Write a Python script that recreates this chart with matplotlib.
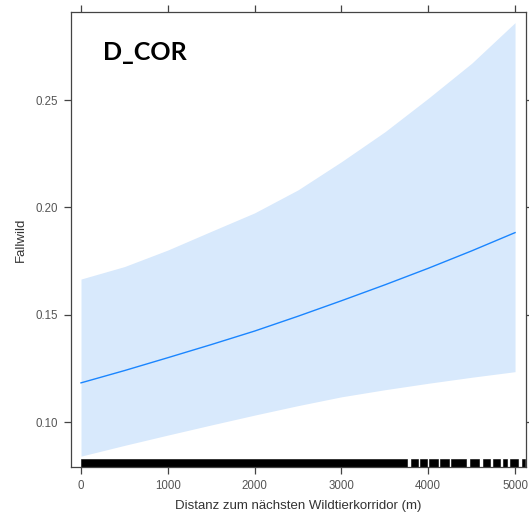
import matplotlib
matplotlib.use("Agg")
import matplotlib.pyplot as plt

# effect of distance to the nearest wildlife corridor
distance = [0, 500, 1000, 1500, 2000, 2500, 3000, 3500, 4000, 4500, 5000]
fit = [0.1184, 0.1241, 0.1301, 0.1362, 0.1425, 0.1494, 0.1566, 0.1640, 0.1717, 0.1798, 0.1883]
lower = [0.0843, 0.0893, 0.0941, 0.0988, 0.1034, 0.1078, 0.1119, 0.1152, 0.1182, 0.1210, 0.1236]
upper = [0.1667, 0.1725, 0.1802, 0.1889, 0.1975, 0.2082, 0.2213, 0.2352, 0.2508, 0.2671, 0.2860]

# rug of observations: black stretches along the bottom (dense up to ~3750 m)
rug_spans = [(0, 3760), (3800, 3880), (3900, 3990), (4010, 4110), (4130, 4240),
             (4260, 4440), (4480, 4580), (4635, 4712), (4750, 4827),
             (4865, 4905), (4942, 5038), (5077, 5115)]

x_ticks = [0, 1000, 2000, 3000, 4000, 5000]
y_ticks = [0.10, 0.15, 0.20, 0.25]

plt.rcParams['font.family'] = ['Liberation Sans', 'DejaVu Sans']

fig = plt.figure(figsize=(5.29, 5.17), dpi=100)
ax = fig.add_axes([0.1336, 0.0961, 0.8602, 0.8813])

# confidence band + fitted line
ax.fill_between(distance, lower, upper, color='#d8e9fc', linewidth=0)
ax.plot(distance, fit, color='#1a85ff', linewidth=1.0)

# rug
for x0, x1 in rug_spans:
    ax.axvspan(x0, x1, ymin=0, ymax=0.018, color='black', linewidth=0.4)

ax.set_xlim(-119, 5123)
ax.set_ylim(0.0791, 0.2911)

ax.set_xticks(x_ticks)
ax.set_xticklabels([str(v) for v in x_ticks])
ax.set_yticks(y_ticks)
ax.set_yticklabels(['%.2f' % v for v in y_ticks])

# lattice style: ticks outward on all four sides, labels only bottom/left
ax.tick_params(axis='both', direction='out', length=5, width=0.9, color='#444444',
               labelcolor='#555555', labelsize=8.3, pad=4,
               top=True, right=True, labeltop=False, labelright=False)
for s in ax.spines.values():
    s.set_color('#444444')
    s.set_linewidth(0.9)

ax.set_xlabel('Distanz zum nächsten Wildtierkorridor (m)', fontsize=9.5,
              color='#333333', labelpad=6)
ax.set_ylabel('Fallwild', fontsize=9.5, color='#333333', labelpad=6)

ax.text(0.071, 0.91, 'D_COR', transform=ax.transAxes, fontsize=18,
        fontweight='bold', family=['Lato', 'DejaVu Sans'], va='center', ha='left')

fig.savefig('out.png', dpi=100)
